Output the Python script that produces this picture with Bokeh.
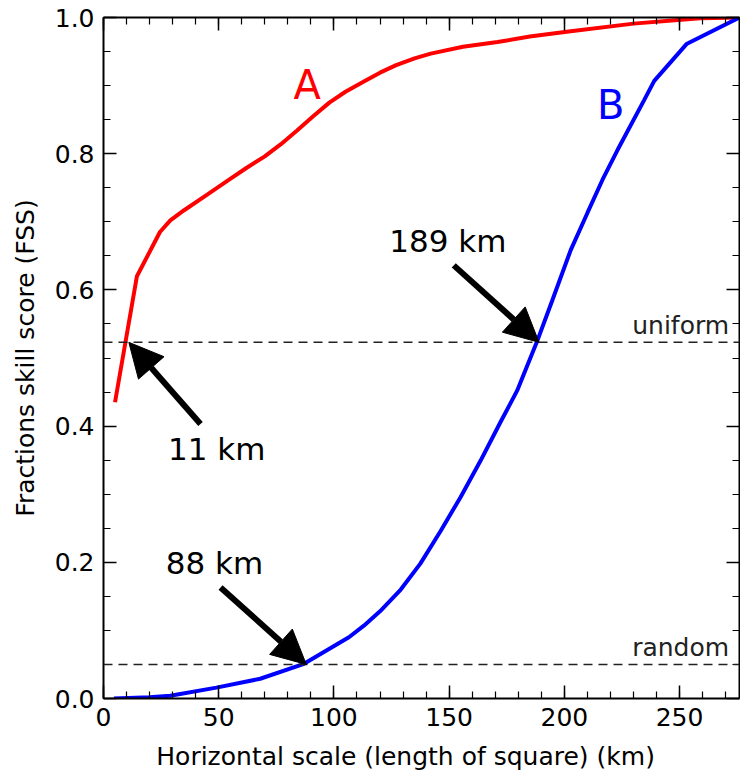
import math
from bokeh.plotting import figure
from bokeh.models import (Range1d, LinearAxis, SingleIntervalTicker, PrintfTickFormatter,
                          Span, Label, Arrow, NormalHead)
from bokeh.embed import file_html
from bokeh.resources import INLINE

# ---------------- data ----------------
a_x = [5, 14.5, 24.5, 29, 35, 45, 55, 62, 70, 77, 84, 91, 98, 105, 113, 120, 127, 135, 142, 156,
       171, 185, 201, 230, 259, 276]
a_y = [0.435, 0.620, 0.685, 0.702, 0.717, 0.740, 0.763, 0.779, 0.796, 0.814, 0.834, 0.855, 0.875,
       0.891, 0.906, 0.919, 0.930, 0.940, 0.947, 0.957, 0.964, 0.972, 0.979, 0.991, 0.999, 1.0]

b_x = [4.5, 20, 29, 49, 68, 87, 106.5, 113, 120, 129, 137.5, 146.3, 155, 163.6, 172.3, 179.5, 188,
       194.7, 202.7, 210, 217, 223, 234.5, 239, 253, 276]
b_y = [0.0, 0.002, 0.004, 0.016, 0.029, 0.051, 0.090, 0.107, 0.128, 0.160, 0.198, 0.246, 0.296,
       0.349, 0.406, 0.452, 0.523, 0.584, 0.658, 0.713, 0.765, 0.805, 0.878, 0.907, 0.961, 1.0]

ref_names = ["random", "uniform"]
ref_values = [0.05, 0.523]

scale_labels = ["11 km", "88 km", "189 km"]
scale_km = [11, 88, 189]
scale_ref = [1, 0, 1]  # which reference line each arrow points at

x_title = "Horizontal scale (length of square) (km)"
y_title = "Fractions skill score (FSS)"

FONT = "DejaVu Sans"
PX = 1.0 / 681.0  # one screen pixel in y data units

# ---------------- figure ----------------
p = figure(width=740, height=779, output_backend="svg", toolbar_location=None,
           x_range=Range1d(0, 276), y_range=Range1d(0, 1.0),
           x_axis_location=None, y_axis_location=None,
           min_border_left=103, min_border_right=1, min_border_top=17, min_border_bottom=81)
p.outline_line_color = None
p.grid.visible = False
p.background_fill_color = "white"
p.border_fill_color = "white"


def style_axis(ax, show_labels):
    ax.axis_line_width = 2
    ax.axis_line_color = "black"
    ax.major_tick_in = 13
    ax.major_tick_out = 0
    ax.minor_tick_in = 7
    ax.minor_tick_out = 0
    ax.major_tick_line_width = 1.5
    ax.minor_tick_line_width = 1.2
    ax.major_tick_line_color = "black"
    ax.minor_tick_line_color = "black"
    if show_labels:
        ax.major_label_text_font = FONT
        ax.major_label_text_font_size = "25px"
        ax.major_label_text_color = "black"
        ax.axis_label_text_font = FONT
        ax.axis_label_text_font_size = "25px"
        ax.axis_label_text_font_style = "normal"
        ax.axis_label_text_color = "black"
    else:
        ax.major_label_text_font_size = "0px"
        ax.major_label_standoff = 0
        ax.major_label_text_color = None


xt = lambda: SingleIntervalTicker(interval=50, num_minor_ticks=5)
yt = lambda: SingleIntervalTicker(interval=0.2, num_minor_ticks=4)

# trailing no-break spaces shift the centred title a little to the left, as in the original
bottom = LinearAxis(ticker=xt(), axis_label=x_title + "\u00a0" * 4)
style_axis(bottom, True)
bottom.major_label_standoff = 9
bottom.axis_label_standoff = 13
p.add_layout(bottom, "below")

top = LinearAxis(ticker=xt())
style_axis(top, False)
p.add_layout(top, "above")

left = LinearAxis(ticker=yt(), formatter=PrintfTickFormatter(format="%.1f"), axis_label=y_title)
style_axis(left, True)
left.major_label_standoff = 9
left.axis_label_standoff = 12
p.add_layout(left, "left")

right = LinearAxis(ticker=yt())
style_axis(right, False)
p.add_layout(right, "right")

# reference lines
for name, val in zip(ref_names, ref_values):
    p.add_layout(Span(location=val, dimension="width", line_color="#222222",
                      line_width=1.5, line_dash="9 6"))
    p.add_layout(Label(x=271.5, y=val + 17 * PX, text=name, text_align="right",
                       text_baseline="alphabetic", text_font=FONT,
                       text_font_size="25px", text_color="#222222"))

# curves
p.line(a_x, a_y, line_color="#ff0000", line_width=4)
p.line(b_x, b_y, line_color="#0000ff", line_width=4)

p.add_layout(Label(x=88.4, y=0.878 + 16 * PX, text="A", text_align="center",
                   text_baseline="alphabetic", text_font=FONT, text_font_size="40px",
                   text_color="#ff0000"))
p.add_layout(Label(x=220.1, y=0.849 + 15 * PX, text="B", text_align="center",
                   text_baseline="alphabetic", text_font=FONT, text_font_size="40px",
                   text_color="#0000ff"))

# arrows + their labels
tails = [(42.1, 0.403), (50.8, 0.163), (152.0, 0.636)]
text_pos = [(28.0, 0.347), (27.0, 0.1806), (124.0, 0.653)]
for lab, km, ri, (tx, ty), (lx, ly) in zip(scale_labels, scale_km, scale_ref, tails, text_pos):
    p.add_layout(Arrow(end=NormalHead(size=34, fill_color="black", line_color="black", line_width=1),
                       x_start=tx, y_start=ty, x_end=km, y_end=ref_values[ri],
                       line_color="black", line_width=6))
    p.add_layout(Label(x=lx, y=ly + 13 * PX, text=lab, text_align="left",
                       text_baseline="alphabetic", text_font=FONT, text_font_size="31px",
                       text_color="black"))

open("out.html", "w").write(file_html(p, INLINE))
